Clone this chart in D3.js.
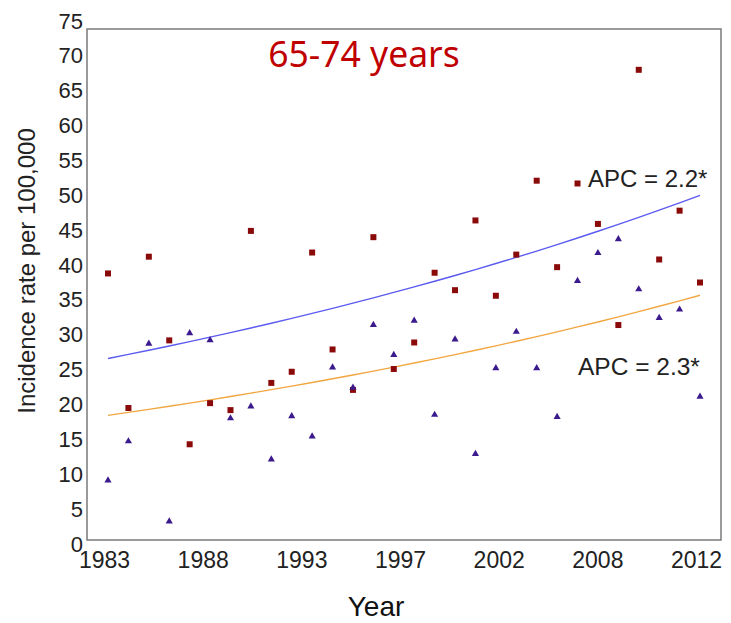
<!DOCTYPE html>
<html><head><meta charset="utf-8">
<script src="https://cdn.jsdelivr.net/npm/d3@7"></script>
<style>
html,body{margin:0;padding:0;background:#fff;}
svg{display:block;}
</style></head>
<body>
<svg id="chart" width="731" height="623"></svg>
<script>
const years = d3.range(1983, 2013);
const squareValues = [38.8,19.5,41.2,29.2,14.3,20.2,19.2,44.9,23.1,24.7,41.8,27.9,22.1,44.0,25.1,28.9,38.9,36.4,46.4,35.6,41.5,52.1,39.7,51.7,45.9,31.4,68.0,40.8,47.8,37.5];
const triangleValues = [9.2,14.8,28.8,3.3,30.3,29.3,18.1,19.8,12.2,18.4,15.5,25.4,22.5,31.5,27.2,32.1,18.6,29.4,13.0,25.3,30.5,25.3,18.3,37.8,41.8,43.8,36.6,32.5,33.7,21.2];
// fitted trend (single-segment joinpoint): value in 1983 and annual percent change
const trendSquares = {start: 26.6, apc: 2.2};
const trendTriangles = {start: 18.45, apc: 2.3};
const xTickLabels = ["1983","1988","1993","1997","2002","2008","2012"];
const yTicks = d3.range(0, 80, 5);
const title = "65-74 years";
const apcLabels = ["APC = 2.2*", "APC = 2.3*"];

const svg = d3.select("#chart");
const x = d3.scaleLinear().domain([1983, 2012]).range([108, 700]);
const y = d3.scaleLinear().domain([0, 75]).range([544, 21]);

// frame
svg.append("rect").attr("x", 87).attr("y", 29).attr("width", 634).attr("height", 511)
  .attr("fill", "none").attr("stroke", "#7a7a7a").attr("stroke-width", 1.5);

// y axis
const yAxis = svg.append("g").attr("transform", "translate(87,0)")
  .call(d3.axisLeft(y).tickValues(yTicks).tickSize(0).tickPadding(4));
yAxis.select(".domain").remove();
yAxis.selectAll("text").attr("font-family", "Liberation Sans, Arial, sans-serif")
  .attr("font-size", 22).attr("fill", "#222");

// x axis
const xTickVals = xTickLabels.map((d, i) => 1983 + i * 29 / 6);
const xAxis = svg.append("g").attr("transform", "translate(-4,540)")
  .call(d3.axisBottom(x).tickValues(xTickVals).tickSize(0).tickPadding(12)
    .tickFormat((d, i) => xTickLabels[i]));
xAxis.select(".domain").remove();
xAxis.selectAll("text").attr("font-family", "Liberation Sans, Arial, sans-serif")
  .attr("font-size", 23).attr("fill", "#222");

// trend lines
function trendLine(t) {
  return years.map(yr => [yr, t.start * Math.pow(1 + t.apc / 100, yr - 1983)]);
}
const line = d3.line().x(d => x(d[0])).y(d => y(d[1])).curve(d3.curveMonotoneX);
svg.append("path").attr("d", line(trendLine(trendSquares)))
  .attr("fill", "none").attr("stroke", "#5b5bf0").attr("stroke-width", 1.4);
svg.append("path").attr("d", line(trendLine(trendTriangles)))
  .attr("fill", "none").attr("stroke", "#f2a640").attr("stroke-width", 1.4);

// points
const sq = d3.symbol().type(d3.symbolSquare).size(36);
const tri = d3.symbol().type(d3.symbolTriangle).size(22);
svg.append("g").selectAll("path").data(years).join("path")
  .attr("d", sq).attr("fill", "#8a0a0a")
  .attr("transform", (d, i) => `translate(${x(d)},${y(squareValues[i])})`);
svg.append("g").selectAll("path").data(years).join("path")
  .attr("d", tri).attr("fill", "#3a1a8c")
  .attr("transform", (d, i) => `translate(${x(d)},${y(triangleValues[i]) + 0.5})`);

// title
svg.append("text").attr("x", 364).attr("y", 67).attr("text-anchor", "middle")
  .attr("font-family", "Noto Sans, sans-serif").attr("font-size", 35.5)
  .attr("fill", "#c00000").text(title);

// APC labels
svg.append("text").attr("x", 588).attr("y", 187)
  .attr("font-family", "Liberation Sans, Arial, sans-serif").attr("font-size", 24)
  .attr("fill", "#222").text(apcLabels[0]);
svg.append("text").attr("x", 578).attr("y", 375)
  .attr("font-family", "Liberation Sans, Arial, sans-serif").attr("font-size", 24.5)
  .attr("fill", "#222").text(apcLabels[1]);

// axis titles
svg.append("text").attr("transform", "translate(35,271) rotate(-90)")
  .attr("text-anchor", "middle")
  .attr("font-family", "Liberation Sans, Arial, sans-serif").attr("font-size", 24)
  .attr("fill", "#222").text("Incidence rate per 100,000");
svg.append("text").attr("x", 376).attr("y", 616).attr("text-anchor", "middle")
  .attr("font-family", "Liberation Sans, Arial, sans-serif").attr("font-size", 28)
  .attr("fill", "#111").text("Year");
</script>
</body></html>
